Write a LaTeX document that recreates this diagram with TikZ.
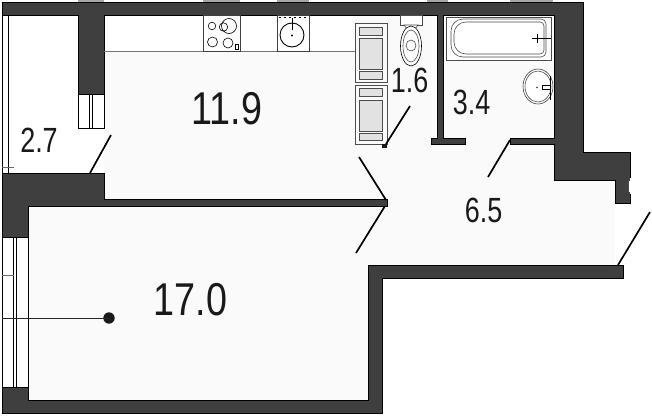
\documentclass[tikz,border=0pt]{standalone}
\usepackage{fontspec}
\setmainfont{Liberation Sans}
\definecolor{wallc}{HTML}{3F3F3F}
\definecolor{floorc}{HTML}{FAFAFA}
\definecolor{fixc}{HTML}{E2E2E2}
\tikzset{
  wall/.style={fill=wallc,draw=black,line width=0.5pt},
  doorline/.style={draw=black,line width=1.7pt},
  bigarea/.style={font=\fontsize{46}{46}\selectfont,xscale=.82,inner sep=0,text=black!90},
  smallarea/.style={font=\fontsize{35}{35}\selectfont,xscale=.77,inner sep=0,text=black!90},
  fix/.style={draw=black!70,line width=0.6pt},
  thin/.style={draw=black,line width=0.6pt}
}
\begin{document}
\begin{tikzpicture}[x=1pt,y=-1pt]
\useasboundingbox (0,0) rectangle (652,415);
\fill[white] (0,0) rectangle (652,415);
% floors
\fill[floorc] (28,206) -- (104,206) -- (104,15) -- (554,15) -- (554,180) -- (615,180) -- (615,265) -- (368,265) -- (368,400) -- (28,400) -- cycle;
\fill[white] (8,15) rectangle (78,173);
\fill[white] (78,128) rectangle (104,173);
% walls
\draw[wall] (2,2) -- (583,2) -- (583,152) -- (630,152) -- (630,203) -- (615,203) -- (615,180) -- (554,180) -- (554,144) -- (510,144) -- (510,138) -- (554,138) -- (554,15) -- (443,15) -- (443,138) -- (465,138) -- (465,144) -- (431,144) -- (431,138) -- (437,138) -- (437,15) -- (104,15) -- (104,94) -- (78,94) -- (78,15) -- (2,15) -- cycle;
\fill[white] (630.5,150) rectangle (652,204);
\draw[line width=0.4pt,draw=black!70,fill=white] (628.5,180) rectangle (632,192);
\fill[white] (630.3,178) rectangle (634,194);
% top-edge strips
\foreach \xa/\xb in {78/104,203/240,277/309,427/448,510/553}{
  \fill[black!35] (\xa,0) rectangle (\xb,1.8);
}
\draw[wall] (2,173) -- (104,173) -- (104,199) -- (387,199) -- (387,206) -- (28,206) -- (28,237) -- (2,237) -- cycle;
\draw[wall] (2,387) -- (28,387) -- (28,400) -- (368,400) -- (368,265) -- (623,265) -- (623,278) -- (382,278) -- (382,413) -- (2,413) -- cycle;
% windows
\draw[thin] (2,15) -- (2,173) (8,15) -- (8,173);
\draw[draw=black!60,line width=0.5pt] (2,167) -- (14,167);
\draw[thin,fill=white] (2,237) rectangle (28,387);
\draw[thin] (13,237) -- (13,387) (16.5,237) -- (16.5,387);
\draw[draw=black!60,line width=0.6pt] (2,275) -- (14,275);
\draw[thin,fill=white] (78,94) rectangle (104,128);
\draw[thin] (89,94) -- (89,128) (92,94) -- (92,128);
% marker
\fill[black!90] (109,318) coordinate (mk) circle (5.7);
\coordinate (mkstart) at (2,318);
\draw[draw=black!85,line width=0.9pt] (mkstart) -- (mk);
% kitchen counter
\fill[white] (104.5,15.5) rectangle (355,51);
\draw[draw=black!55,line width=0.7pt] (104,51) -- (355,51);
\draw[thin,draw=black!75,fill=white] (203,15) rectangle (240,51);
\draw[thin] (212,26) circle (3.8) (223.5,27) circle (4.2) (229,26) circle (7.5)
  (212.5,42) circle (5) (228,43) circle (5);
\draw[line width=0.4pt] (235,44) rectangle (238,49);
\draw[thin,draw=black!75,fill=white] (277,15) rectangle (309,51);
\draw[line width=0.9pt] (292,35) circle (12);
\fill (292,35.5) circle (1.2);
\draw[line width=0.8pt] (292,18) -- (292,30);
\draw[line width=0.7pt,dash pattern=on 1.5pt off 3.5pt] (279,17.5) -- (308,17.5);
% tall cabinets
\foreach \yy/\a/\b/\c/\d/\e/\f in {23/27/35/38/69/71/79, 85/88/96/100/131/133/140}{
  \draw[fix,fill=floorc] (355,\yy) rectangle (387,\yy+59);
  \draw[fix,fill=fixc] (359,\a) rectangle (382,\b);
  \draw[fix,fill=fixc] (359,\c) rectangle (382,\d);
  \draw[fix,fill=fixc] (359,\e) rectangle (382,\f);
}
\fill[black!90] (381.5,144) rectangle (386.5,147.5);
% toilet
\draw[fix,fill=white] (400,15) -- (422,15) -- (422,25) -- (400,25) -- cycle;
\draw[thin,draw=black!70,fill=white] (404,25) -- (418,25) -- (415,29) -- (407,29) -- cycle;
\draw[thin,fill=white] (411,46) ellipse (10.5 and 20);
\draw[thin,draw=black!70] (411,46) ellipse (8 and 16);
\draw[thin,draw=black!70] (411,45.5) ellipse (5 and 5.5);
% bath
\draw[fix,fill=white] (446,17) rectangle (551,60);
\draw[fix,rounded corners=12pt] (500,19) -- (451,19) -- (451,57) -- (500,57) [rounded corners=5pt] -- (546,57) -- (546,19) -- cycle;
\draw[fix,fill=white,rounded corners=12pt] (500,22) -- (454,22) -- (454,54) -- (500,54) [rounded corners=4pt] -- (544,54) -- (544,22) -- cycle;
\draw[line width=0.6pt] (532,38.5) -- (551,38.5) (537.5,34) -- (537.5,43);
\fill (537.5,38.5) circle (1.3);
% wash basin
\begin{scope}
\clip (515,60) rectangle (554,110);
\draw[thin,draw=black!75,fill=white] (538,86.5) ellipse (15 and 17.5);
\draw[thin,draw=black!70] (538,86.5) ellipse (13 and 15.5);
\end{scope}
\fill[black!80] (537,87.5) circle (.8);
\draw[line width=0.5pt,fill=white] (542,85.5) rectangle (550,89.5);
\draw[line width=0.5pt] (550,76) -- (550,100);
% doors
\coordinate (d1a) at (90,173); \coordinate (d1b) at (111,135);
\coordinate (d2a) at (386,144); \coordinate (d2b) at (410,106);
\coordinate (d3a) at (386,200); \coordinate (d3b) at (359,157);
\coordinate (d4a) at (385,206); \coordinate (d4b) at (356,253);
\coordinate (d5a) at (510,140); \coordinate (d5b) at (488,177);
\coordinate (d6a) at (618,265); \coordinate (d6b) at (650,212);
\draw[doorline] (d1a)--(d1b) (d2a)--(d2b) (d3a)--(d3b) (d4a)--(d4b) (d5a)--(d5b) (d6a)--(d6b);
% labels
\node[bigarea] (a119) at (227,109) {11.9};
\node[bigarea] (a170) at (190.5,299.5) {17.0};
\node[smallarea] (a27) at (39,140) {2.7};
\node[smallarea] (a16) at (409.5,80.5) {1.6};
\node[smallarea] (a34) at (471.5,102.5) {3.4};
\node[smallarea] (a65) at (483.5,210.5) {6.5};
\end{tikzpicture}
\end{document}
